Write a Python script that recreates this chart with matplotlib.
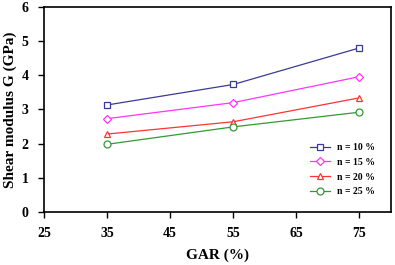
import matplotlib
matplotlib.use("Agg")
import matplotlib.pyplot as plt

gar = [35, 55, 75]
g_n10 = [3.13, 3.73, 4.80]
g_n15 = [2.73, 3.20, 3.96]
g_n20 = [2.28, 2.64, 3.34]
g_n25 = [1.98, 2.49, 2.92]

plt.rcParams['font.family'] = 'Liberation Serif'
plt.rcParams['font.weight'] = 'bold'

fig = plt.figure(figsize=(3.95, 2.65), dpi=100)
ax = fig.add_axes([0.111, 0.2, 0.879, 0.774])

ax.plot(gar, g_n10, color='#3a3a9a', lw=0.9, marker='s', ms=5, mfc='white', mew=0.9, label='n = 10 %')
ax.plot(gar, g_n15, color='#ff33ff', lw=0.9, marker='D', ms=4.5, mfc='white', mew=0.9, label='n = 15 %')
ax.plot(gar, g_n20, color='#ff3333', lw=0.9, marker='^', ms=5, mfc='white', mew=0.9, label='n = 20 %')
ax.plot(gar, g_n25, color='#339933', lw=0.9, marker='o', ms=5, mfc='white', mew=0.9, label='n = 25 %')

ax.set_xlim(25, 80)
ax.set_ylim(0, 6)
ax.set_xticks([25, 35, 45, 55, 65, 75])
ax.set_yticks([0, 1, 2, 3, 4, 5, 6])
ax.tick_params(direction='out', length=4, width=1, labelsize=10, pad=7)
for s in ax.spines.values():
    s.set_linewidth(1.2)
ax.set_xlabel('GAR (%)', fontsize=11, fontweight='bold', labelpad=6)
ax.set_ylabel('Shear modulus G (GPa)', fontsize=11, fontweight='bold', labelpad=3)

ax.legend(loc='lower right', frameon=False, handlelength=2.0,
          labelspacing=0.6, borderaxespad=1.2, prop={'weight': 'bold', 'size': 7})

fig.savefig('out.png', dpi=100)
